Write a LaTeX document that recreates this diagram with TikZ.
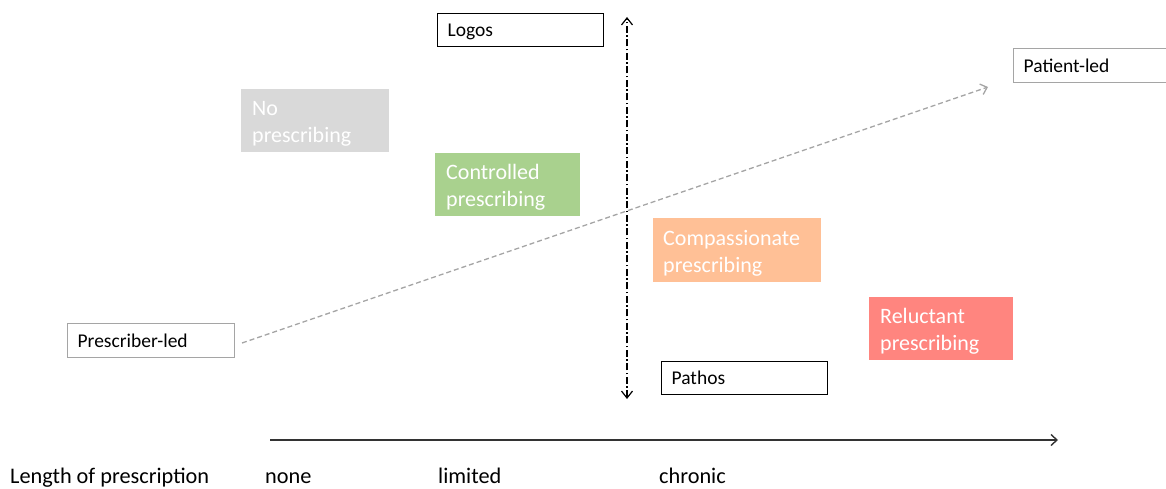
\documentclass[tikz,border=0pt]{standalone}
\usepackage{fontspec}
\setmainfont{Carlito}
\usetikzlibrary{arrows.meta}
\definecolor{nogray}{RGB}{217,217,217}
\definecolor{ctrlgreen}{RGB}{169,209,142}
\definecolor{comporange}{RGB}{255,192,150}
\definecolor{relred}{RGB}{255,133,127}
\definecolor{leadgray}{RGB}{165,165,165}
\tikzset{
  labelbox/.style={draw=black, line width=1.3pt, anchor=north west, inner xsep=10pt, inner ysep=0pt,
    align=left, font=\fontsize{19.5}{23}\selectfont, text depth=0pt},
  leadbox/.style={labelbox, draw=leadgray},
  catbox/.style={anchor=north west, inner sep=0pt},
  cattext/.style={anchor=west, inner sep=0pt, align=left, text=white,
    font=\fontsize{22}{27}\selectfont},
  axislabel/.style={anchor=base west, inner sep=0pt, font=\fontsize{22.3}{26}\selectfont}
}
\begin{document}
\begin{tikzpicture}[x=1pt,y=-1pt]
\useasboundingbox (0,0) rectangle (1166,489);
% label boxes
\node[labelbox, minimum width=166, minimum height=33, text width=146] (logos) at (437,13) {Logos};
\node[labelbox, minimum width=166, minimum height=33, text width=146] (pathos) at (661,361) {Pathos};
\node[leadbox, minimum width=167, minimum height=34, text width=147] (presc) at (67,323) {Prescriber-led};
\node[leadbox, minimum width=170, minimum height=34, text width=150] (patient) at (1013,48) {Patient-led};
% category boxes
\node[catbox, fill=nogray, minimum width=148, minimum height=63] (nopresc) at (241,89) {};
\node[cattext] (nopresc-t) at ([xshift=11pt,yshift=-3pt]nopresc.west) {No\\prescribing};
\node[catbox, fill=ctrlgreen, minimum width=145, minimum height=63] (ctrl) at (435,153) {};
\node[cattext] (ctrl-t) at ([xshift=11pt,yshift=-3pt]ctrl.west) {Controlled\\prescribing};
\node[catbox, fill=comporange, minimum width=168, minimum height=64] (comp) at (653,218) {};
\node[cattext] (comp-t) at ([xshift=10pt,yshift=-3pt]comp.west) {Compassionate\\prescribing};
\node[catbox, fill=relred, minimum width=144, minimum height=63] (rel) at (869,297) {};
\node[cattext] (rel-t) at ([xshift=11pt,yshift=-3pt]rel.west) {Reluctant\\prescribing};
% vertical logos-pathos axis
\coordinate (vtop) at (627,17);
\coordinate (vbot) at (627,399);
\draw[line width=1.2pt, dash pattern=on 7pt off 2.5pt on 1.5pt off 2.5pt, {Straight Barb[length=7pt,width=11pt]}-{Straight Barb[length=7pt,width=11pt]}] (vbot) -- (vtop);
% prescriber-led to patient-led
\coordinate (dstart) at (242,343);
\coordinate (dend) at (988,87);
\draw[leadgray, line width=1.3pt, dash pattern=on 5pt off 3pt, -{Straight Barb[length=6pt,width=11pt]}] (dstart) -- (dend);
% horizontal axis
\coordinate (hstart) at (270,440);
\coordinate (hend) at (1058,440);
\draw[black!80, line width=1.4pt, -{Straight Barb[length=6pt,width=11pt]}] (hstart) -- (hend);
% axis labels
\node[axislabel] (len) at (10,483) {Length of prescription};
\node[axislabel] (none) at (265,483) {none};
\node[axislabel] (lim) at (438,483) {limited};
\node[axislabel] (chr) at (659,483) {chronic};
\end{tikzpicture}
\end{document}
